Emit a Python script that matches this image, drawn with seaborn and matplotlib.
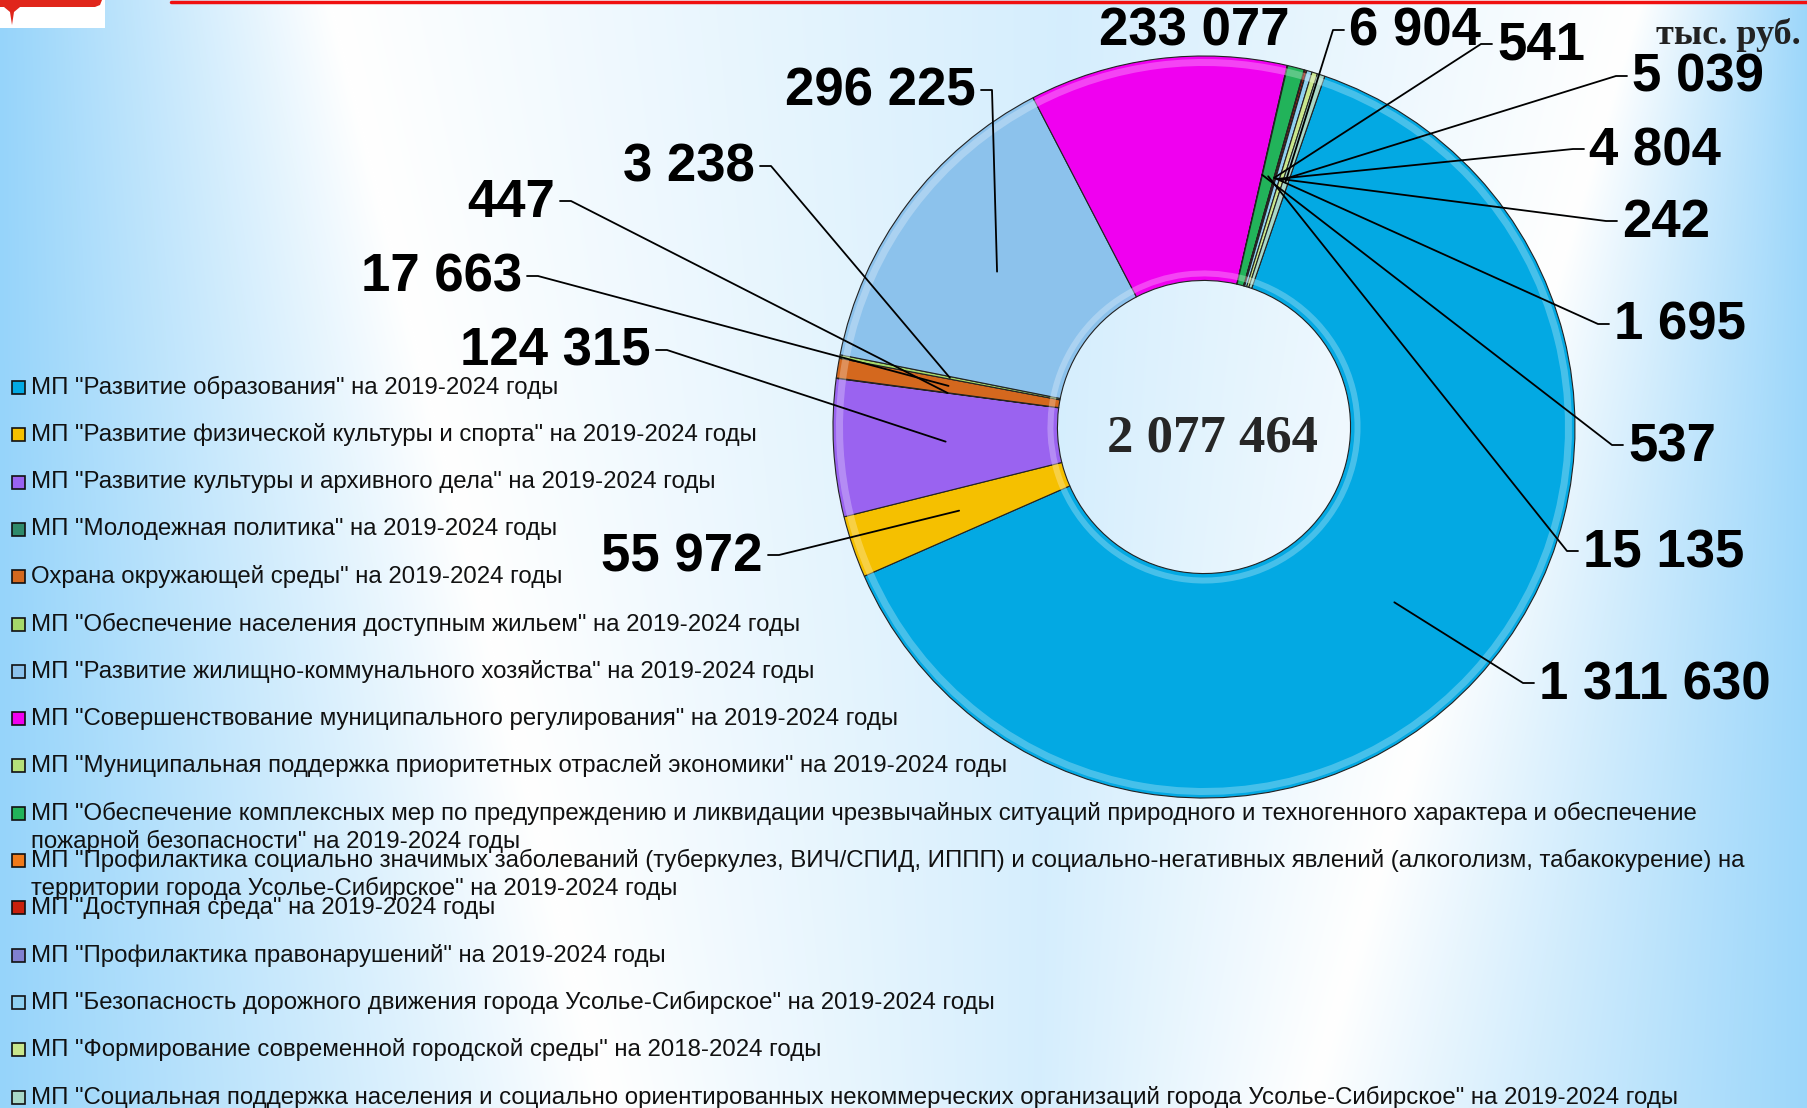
import numpy as np
import matplotlib.pyplot as plt
import seaborn as sns
from matplotlib.patches import Rectangle, Polygon

# Municipal programs budget, thousand rub.
programs = [
    'МП "Развитие образования" на 2019-2024 годы',
    'МП "Развитие физической культуры и спорта" на 2019-2024 годы',
    'МП "Развитие культуры и архивного дела" на 2019-2024 годы',
    'МП "Молодежная политика" на 2019-2024 годы',
    'Охрана окружающей среды" на 2019-2024 годы',
    'МП "Обеспечение населения доступным жильем" на 2019-2024 годы',
    'МП "Развитие жилищно-коммунального хозяйства" на 2019-2024 годы',
    'МП "Совершенствование муниципального регулирования" на 2019-2024 годы',
    'МП "Муниципальная поддержка приоритетных отраслей экономики" на 2019-2024 годы',
    'МП "Обеспечение комплексных мер по предупреждению и ликвидации чрезвычайных ситуаций природного и техногенного характера и обеспечение\n'
    'пожарной безопасности" на 2019-2024 годы',
    'МП "Профилактика социально значимых заболеваний (туберкулез, ВИЧ/СПИД, ИППП) и социально-негативных явлений (алкоголизм, табакокурение) на\n'
    'территории города Усолье-Сибирское" на 2019-2024 годы',
    'МП "Доступная среда" на 2019-2024 годы',
    'МП "Профилактика правонарушений" на 2019-2024 годы',
    'МП "Безопасность дорожного движения города Усолье-Сибирское" на 2019-2024 годы',
    'МП "Формирование современной городской среды" на 2018-2024 годы',
    'МП "Социальная поддержка населения и социально ориентированных некоммерческих организаций города Усолье-Сибирское" на 2019-2024 годы',
]
values = [1311630, 55972, 124315, 447, 17663, 3238, 296225, 233077,
          537, 15135, 541, 1695, 242, 4804, 5039, 6904]
colors = ['#03a9e3', '#f5c000', '#9a63f0', '#2f8a6a', '#d4681e', '#a6d96a',
          '#8cc2ec', '#f000f0', '#b5e07a', '#22b35a', '#f07a1a', '#c8200c',
          '#8080d0', '#8fd0f0', '#c8e68c', '#a8d8c8']
units = 'тыс. руб.'

# label placement (pixels from top-left): side of the text anchor, x, y
label_pos = [('l', 1539, 685), ('r', 763, 557), ('r', 651, 352), ('r', 555, 203),
             ('r', 522, 278), ('r', 755, 168), ('r', 976, 92), ('c', 1194, 32),
             ('l', 1628, 447), ('l', 1583, 553), ('l', 1497, 46), ('l', 1614, 326),
             ('l', 1622, 223), ('l', 1589, 151), ('l', 1632, 78), ('l', 1349, 32)]

W, H = 1808, 1108
cx, cy, R = 1204, 427, 371
hole = 0.395

sns.set_style('white')
plt.rcParams['font.family'] = ['Liberation Sans', 'DejaVu Sans']

fig = plt.figure(figsize=(W / 100, H / 100), dpi=100)
ax = fig.add_axes([0, 0, 1, 1])

# background gradient (blue - white - pale blue - white - blue)
xs = np.arange(W)
t = np.empty((H, W))
for y in range(H):
    xa = 330 + 0.25 * y
    xb = 1640 - 0.3 * y
    xm = (xa + xb) / 2 + 80
    t[y] = np.interp(xs, [0, xa, xm, xb, W], [1, 0, 0.4, 0, 0.95])
blue = np.array([150, 212, 250]) / 255
bg = (1 - t[..., None]) * np.ones(3) + t[..., None] * blue
ax.imshow(bg, extent=(0, W, 0, H), origin='upper', zorder=0, aspect='auto')

pal = sns.color_palette(colors)
wedges, _ = ax.pie(values, colors=pal, startangle=71, counterclock=False,
                   radius=R, center=(cx, H - cy),
                   wedgeprops=dict(width=R * (1 - hole), edgecolor='#222222', linewidth=0.8))
for w in wedges:
    w.set_zorder(2)

# bevel highlights along outer and inner rims
light = [tuple(0.55 * np.array(c) + 0.45) for c in pal]
for r0, wd in [(R - 3, 7), (R * hole + 10, 6)]:
    rim, _ = ax.pie(values, colors=light, startangle=71, counterclock=False,
                    radius=r0, center=(cx, H - cy),
                    wedgeprops=dict(width=wd, edgecolor='none', alpha=0.6))
    for w in rim:
        w.set_zorder(2.5)

r_mid = R * (1 + hole) / 2
for w, v, (side, lx, ly) in zip(wedges, values, label_pos):
    txt = f'{v:,}'.replace(',', ' ')
    y = H - ly
    ha = {'l': 'left', 'r': 'right', 'c': 'center'}[side]
    ax.text(lx, y, txt, ha=ha, va='center', fontsize=38, fontweight='bold',
            color='black', zorder=5)
    if side == 'c':
        continue
    a = np.deg2rad((w.theta1 + w.theta2) / 2)
    ax0, ay0 = cx + r_mid * np.cos(a), H - cy + r_mid * np.sin(a)
    d = -1 if side == 'l' else 1
    ax.plot([ax0, lx + d * 16, lx + d * 5], [ay0, y + 2, y + 2], color='black', lw=1.3, zorder=4)

ax.text(cx + 9, H - 438, f'{sum(values):,}'.replace(',', ' '), ha='center', va='center',
        fontsize=38, fontweight='bold', family='Liberation Serif', zorder=5)
ax.text(1801, H - 35, units, ha='right', va='center', fontsize=26, fontweight='bold',
        family='Liberation Serif', color='#222222', zorder=5)

# legend
for i, (lab, col) in enumerate(zip(programs, pal)):
    yc = 387.5 + i * 47.3
    ax.add_patch(Rectangle((12, H - yc - 6.5), 13, 13, facecolor=col, edgecolor='#111111',
                           lw=1.2, zorder=5))
    for k, line in enumerate(lab.split('\n')):
        ax.text(31, H - yc - k * 28, line, ha='left', va='center', fontsize=17.3,
                color='#111111', zorder=5)

# decoration at the top
ax.add_patch(Rectangle((0, H - 28), 105, 28, facecolor='white', edgecolor='none', zorder=3))
ax.add_patch(Polygon([(0, H), (102, H), (100, H - 5), (95, H - 7), (20, H - 7), (14, H - 12),
                      (12, H - 25), (10, H - 12), (4, H - 7), (0, H - 7)],
                     facecolor='#e0261b', edgecolor='none', zorder=4))
ax.plot([171, W], [H - 1.5, H - 1.5], color='#f01010', lw=2.5, zorder=4)

ax.set_xlim(0, W)
ax.set_ylim(0, H)
ax.set_aspect('auto')
ax.axis('off')

fig.savefig('out.png', dpi=100)
